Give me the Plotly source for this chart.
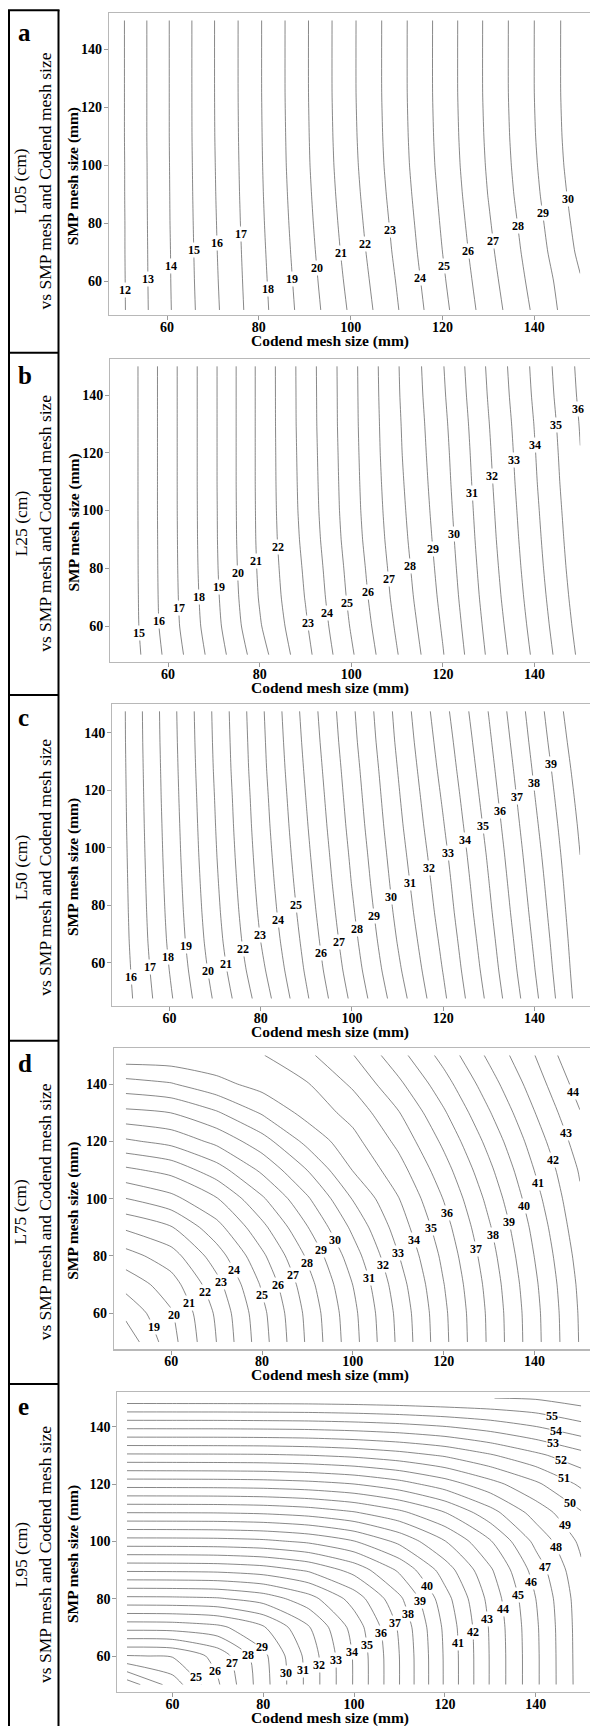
import numpy as np
import plotly.graph_objects as go

W, H = 590, 1726

# ---------------- data ----------------
codend = [50, 60, 70, 80, 90, 100, 110, 120, 130, 140, 150]

smp_a = [50, 60, 70, 80, 90, 100, 110, 125, 150]
L05 = [
    [11.81, 13.82, 15.73, 17.62, 19.39, 21.14, 22.91, 24.73, 26.47, 28.15, 29.83],
    [11.82, 13.84, 15.78, 17.67, 19.48, 21.28, 23.04, 24.87, 26.62, 28.33, 29.93],
    [11.83, 13.85, 15.82, 17.72, 19.57, 21.41, 23.18, 25.00, 26.77, 28.50, 30.20],
    [11.83, 13.87, 15.85, 17.77, 19.65, 21.52, 23.29, 25.11, 26.90, 28.64, 30.36],
    [11.84, 13.88, 15.88, 17.81, 19.72, 21.62, 23.40, 25.21, 27.03, 28.78, 30.50],
    [11.84, 13.89, 15.90, 17.84, 19.78, 21.70, 23.49, 25.30, 27.12, 28.88, 30.62],
    [11.85, 13.90, 15.92, 17.86, 19.81, 21.75, 23.54, 25.35, 27.18, 28.95, 30.69],
    [11.85, 13.90, 15.93, 17.88, 19.84, 21.79, 23.58, 25.39, 27.23, 29.00, 30.74],
    [11.85, 13.90, 15.93, 17.88, 19.84, 21.79, 23.58, 25.39, 27.23, 29.00, 30.74],
]

smp_b = [50, 60, 70, 80, 90, 100, 110, 120, 130, 140, 150]
L25 = [
    [14.12, 16.28, 18.40, 20.58, 22.68, 24.87, 26.95, 28.95, 31.16, 33.18, 35.21],
    [14.17, 16.45, 18.62, 20.91, 22.88, 25.08, 27.14, 29.10, 31.31, 33.34, 35.37],
    [14.18, 16.50, 18.72, 21.07, 23.04, 25.24, 27.31, 29.24, 31.45, 33.48, 35.51],
    [14.19, 16.52, 18.78, 21.15, 23.15, 25.36, 27.43, 29.35, 31.56, 33.60, 35.63],
    [14.19, 16.53, 18.81, 21.20, 23.27, 25.49, 27.55, 29.45, 31.66, 33.70, 35.73],
    [14.19, 16.54, 18.82, 21.22, 23.35, 25.57, 27.64, 29.54, 31.74, 33.79, 35.82],
    [14.19, 16.54, 18.83, 21.23, 23.39, 25.61, 27.72, 29.62, 31.82, 33.88, 35.91],
    [14.19, 16.54, 18.83, 21.23, 23.42, 25.64, 27.79, 29.69, 31.89, 33.95, 35.98],
    [14.19, 16.54, 18.83, 21.23, 23.45, 25.67, 27.83, 29.77, 31.97, 34.03, 36.06],
    [14.19, 16.54, 18.83, 21.23, 23.46, 25.68, 27.88, 29.87, 32.07, 34.14, 36.17],
    [14.19, 16.54, 18.83, 21.23, 23.47, 25.69, 27.91, 29.95, 32.15, 34.22, 36.25],
]

smp_c = [47.5, 57.5, 67.5, 77.5, 87.5, 97.5, 107.5, 117.5, 127.5, 137.5, 147.5]
L50 = [
    [15.56, 17.83, 20.14, 22.42, 24.87, 27.19, 29.51, 31.82, 34.24, 36.76, 39.45],
    [15.64, 18.01, 20.39, 22.75, 25.13, 27.47, 29.81, 32.04, 34.46, 36.97, 39.56],
    [15.71, 18.15, 20.58, 23.00, 25.32, 27.68, 30.04, 32.23, 34.64, 37.14, 39.66],
    [15.75, 18.24, 20.71, 23.17, 25.49, 27.86, 30.24, 32.42, 34.82, 37.31, 39.77],
    [15.78, 18.31, 20.81, 23.30, 25.64, 28.03, 30.41, 32.58, 34.98, 37.47, 39.88],
    [15.81, 18.37, 20.90, 23.41, 25.78, 28.17, 30.57, 32.75, 35.14, 37.63, 40.00],
    [15.84, 18.42, 20.97, 23.51, 25.91, 28.32, 30.73, 32.94, 35.32, 37.80, 40.14],
    [15.86, 18.47, 21.03, 23.59, 26.03, 28.45, 30.87, 33.12, 35.50, 37.97, 40.30],
    [15.88, 18.51, 21.10, 23.68, 26.15, 28.58, 31.01, 33.31, 35.68, 38.14, 40.48],
    [15.90, 18.55, 21.15, 23.74, 26.27, 28.72, 31.16, 33.49, 35.86, 38.32, 40.68],
    [15.91, 18.58, 21.19, 23.80, 26.38, 28.83, 31.28, 33.68, 36.04, 38.49, 40.88],
]

smp_d = [50, 60, 70, 80, 90, 100, 110, 120, 130, 140, 150]
L75 = [
    [17.30, 19.64, 22.01, 24.59, 27.16, 29.63, 32.18, 34.73, 37.16, 39.64, 42.07],
    [18.25, 19.89, 22.17, 24.73, 27.27, 29.73, 32.27, 34.79, 37.20, 39.68, 42.11],
    [19.34, 20.55, 22.67, 25.13, 27.60, 30.01, 32.53, 34.97, 37.34, 39.81, 42.21],
    [20.60, 21.56, 23.51, 25.79, 28.15, 30.53, 32.95, 35.24, 37.58, 40.02, 42.39],
    [22.16, 22.93, 24.65, 26.72, 28.96, 31.22, 33.45, 35.60, 37.89, 40.28, 42.63],
    [23.98, 24.70, 25.93, 27.85, 29.87, 32.06, 33.95, 36.04, 38.29, 40.63, 42.85],
    [25.80, 26.33, 27.56, 29.20, 31.02, 33.04, 34.58, 36.59, 38.77, 41.02, 43.10],
    [27.84, 28.31, 29.26, 30.58, 32.29, 33.68, 35.25, 37.21, 39.31, 41.47, 43.50],
    [29.75, 30.01, 30.89, 32.11, 33.36, 34.35, 35.93, 37.87, 39.92, 41.97, 43.95],
    [31.62, 31.93, 32.69, 33.37, 33.94, 35.17, 36.77, 38.59, 40.55, 42.48, 44.45],
    [33.62, 33.65, 33.75, 33.95, 34.80, 35.96, 37.63, 39.35, 41.20, 42.98, 44.98],
]

smp_e = [50, 60, 70, 80, 90, 100, 110, 120, 130, 140, 150]
L95 = [
    [21.40, 23.44, 25.88, 28.59, 31.32, 34.09, 37.00, 40.12, 43.08, 45.80, 48.48],
    [24.94, 25.07, 26.34, 28.73, 31.38, 34.11, 37.01, 40.13, 43.08, 45.80, 48.50],
    [28.35, 28.40, 28.74, 29.88, 31.91, 34.40, 37.17, 40.22, 43.13, 45.84, 48.52],
    [31.76, 31.79, 31.90, 32.43, 33.59, 35.42, 37.80, 40.60, 43.34, 46.00, 48.58],
    [35.17, 35.19, 35.25, 35.51, 36.15, 37.36, 39.18, 41.48, 43.86, 46.44, 48.81],
    [38.59, 38.60, 38.64, 38.79, 39.18, 39.96, 41.25, 42.96, 44.92, 47.27, 49.23],
    [42.00, 42.01, 42.03, 42.13, 42.39, 42.90, 43.75, 44.97, 46.61, 48.42, 49.91],
    [45.41, 45.42, 45.44, 45.50, 45.67, 46.00, 46.61, 47.51, 48.64, 49.81, 51.20],
    [48.83, 48.84, 48.85, 48.88, 48.99, 49.21, 49.58, 50.11, 50.89, 51.77, 52.65],
    [52.24, 52.245, 52.25, 52.28, 52.33, 52.46, 52.66, 52.97, 53.42, 53.98, 54.68],
    [55.65, 55.655, 55.66, 55.67, 55.69, 55.74, 55.82, 55.93, 55.99, 56.10, 56.50],
]

# contour-label levels and the SMP value at which each label sits
lab_levels_a = list(range(12, 31))
lab_y_a = [56.9, 60.6, 65.3, 70.7, 73.0, 76.1, 57.1, 60.6, 64.6, 69.6, 72.8, 77.6,
           60.9, 65.3, 70.4, 73.9, 79.0, 83.4, 88.3]
lab_levels_b = list(range(15, 37))
lab_y_b = [57.7, 61.8, 66.1, 69.9, 73.4, 78.2, 82.5, 87.5, 60.9, 64.6, 67.9, 71.9,
           76.2, 80.8, 86.7, 91.9, 106.0, 112.1, 117.5, 122.7, 129.6, 135.1]
lab_levels_c = list(range(16, 40))
lab_y_c = [54.9, 58.4, 62.1, 65.9, 57.1, 59.5, 64.6, 69.6, 74.8, 80.1, 63.5, 67.2,
           71.6, 76.3, 82.7, 87.8, 92.8, 98.3, 102.7, 107.7, 112.8, 117.5, 122.4, 129.1]
lab_levels_d = list(range(19, 45))
lab_y_d = [55.1, 59.4, 63.7, 67.3, 70.8, 75.1, 66.4, 69.9, 73.4, 77.4, 82.1, 85.6,
           72.2, 76.9, 80.9, 85.6, 89.7, 95.1, 82.3, 87.3, 91.7, 97.6, 105.3, 113.5,
           122.8, 137.3]
lab_levels_e = list(range(25, 56))
lab_y_e = [52.8, 54.9, 57.4, 60.3, 63.0, 54.2, 55.1, 56.9, 58.6, 61.5, 63.8, 67.9,
           71.4, 74.7, 79.3, 84.5, 64.7, 68.5, 72.8, 76.3, 81.3, 85.9, 90.9, 98.1,
           105.7, 113.5, 122.0, 128.4, 134.2, 138.6, 143.8]

side_titles = ["L05 (cm)", "L25 (cm)", "L50 (cm)", "L75 (cm)", "L95 (cm)"]
side_sub = "vs SMP mesh and Codend mesh size"
letters = ["a", "b", "c", "d", "e"]
x_title = "Codend mesh size (mm)"
y_title = "SMP mesh size (mm)"
tick_vals = [60, 80, 100, 120, 140]

# ---------------- layout (pixel geometry) ----------------
panels = [
    dict(smp=smp_a, z=L05, levels=lab_levels_a, ly=lab_y_a, lo=12, hi=30,
         x60=167.0, x140=534.3, left=109.1, p140=49.3, p60=281.0, top=13.3, bottom=315.0,
         cell=(10.3, 352.7)),
    dict(smp=smp_b, z=L25, levels=lab_levels_b, ly=lab_y_b, lo=15, hi=36,
         x60=168.0, x140=534.5, left=110.3, p140=395.0, p60=626.0, top=359.3, bottom=661.7,
         cell=(352.7, 695.0)),
    dict(smp=smp_c, z=L50, levels=lab_levels_c, ly=lab_y_c, lo=16, hi=40,
         x60=169.4, x140=534.5, left=112.2, p140=732.7, p60=962.7, top=704.0, bottom=1006.0,
         cell=(695.0, 1040.7)),
    dict(smp=smp_d, z=L75, levels=lab_levels_d, ly=lab_y_d, lo=18, hi=44,
         x60=171.2, x140=534.5, left=114.0, p140=1084.0, p60=1313.3, top=1048.3, bottom=1349.3,
         cell=(1040.7, 1384.0)),
    dict(smp=smp_e, z=L95, levels=lab_levels_e, ly=lab_y_e, lo=22, hi=56,
         x60=172.4, x140=535.8, left=117.4, p140=1426.7, p60=1656.0, top=1392.3, bottom=1691.7,
         cell=(1384.0, 1726.0)),
]

SERIF = "Liberation Serif, Times New Roman, serif"


def px(x):
    return x / W


def py(y):
    return 1 - y / H


def label_x(xg, yg, Z, level, yl):
    Z = np.asarray(Z, dtype=float)
    row = np.array([np.interp(yl, yg, Z[:, j]) for j in range(len(xg))])
    for j in range(len(xg) - 1):
        a, b = row[j], row[j + 1]
        if (a - level) * (b - level) <= 0 and a != b:
            return xg[j] + (level - a) / (b - a) * (xg[j + 1] - xg[j])
    return None


fig = go.Figure()
layout = dict(
    width=W, height=H, margin=dict(l=0, r=0, t=0, b=0, pad=0),
    paper_bgcolor="white", plot_bgcolor="white", showlegend=False,
    font=dict(family=SERIF, color="black"),
)
annotations = []
shapes = []

for i, p in enumerate(panels):
    sfx = "" if i == 0 else str(i + 1)
    xa, ya = "x" + sfx, "y" + sfx
    fig.add_trace(go.Contour(
        x=codend, y=p["smp"], z=p["z"], xaxis=xa, yaxis=ya,
        autocontour=False,
        contours=dict(coloring="none", start=p["lo"], end=p["hi"], size=1, showlabels=False),
        line=dict(color="#555555", width=0.7, smoothing=0.6),
        showscale=False, hoverinfo="skip",
    ))
    s = (p["x140"] - p["x60"]) / 80.0
    xr = [60 + (p["left"] - p["x60"]) / s, 60 + (W - p["x60"]) / s]
    sy = (p["p60"] - p["p140"]) / 80.0
    yr = [60 - (p["bottom"] - p["p60"]) / sy, 140 + (p["p140"] - p["top"]) / sy]
    axis_common = dict(
        showgrid=False, zeroline=False, showline=True, linecolor="#b8b8b8", linewidth=1.2,
        ticks="outside", ticklen=4, tickcolor="#9a9a9a", tickwidth=1,
        tickvals=tick_vals, tickfont=dict(family=SERIF, size=14, color="black", weight="bold"),
        fixedrange=True,
    )
    layout["xaxis" + sfx] = dict(axis_common, domain=[px(p["left"]), 1.0], range=xr,
                                 anchor=ya, mirror=True, ticklabelstandoff=-5)
    layout["yaxis" + sfx] = dict(axis_common, domain=[py(p["bottom"]), py(p["top"])], range=yr,
                                 anchor=xa, mirror=False, ticklabelstandoff=-1)

    # contour labels
    for lev, yl in zip(p["levels"], p["ly"]):
        xl = label_x(codend, p["smp"], p["z"], lev, yl)
        if xl is None:
            continue
        annotations.append(dict(
            x=xl, y=yl, xref=xa, yref=ya, text="<b>%d</b>" % lev, showarrow=False,
            font=dict(family=SERIF, size=12, color="black"),
            bgcolor="white", borderpad=0, xanchor="center", yanchor="middle",
        ))

    # axis titles
    annotations.append(dict(
        x=px(330), y=py(p["bottom"] + 26), xref="paper", yref="paper",
        text="<b>%s</b>" % x_title, showarrow=False,
        font=dict(family=SERIF, size=15.5, color="black"), xanchor="center", yanchor="middle",
    ))
    annotations.append(dict(
        x=px(73.0), y=py((p["top"] + p["bottom"]) / 2 + 12), xref="paper", yref="paper",
        text="<b>%s</b>" % y_title, showarrow=False, textangle=-90,
        font=dict(family=SERIF, size=15.5, color="black"), xanchor="center", yanchor="middle",
    ))

    # left box cell
    c0, c1 = p["cell"]
    cmid = (c0 + c1) / 2
    annotations.append(dict(
        x=px(20.5), y=py(cmid), xref="paper", yref="paper", text=side_titles[i],
        showarrow=False, textangle=-90, font=dict(family=SERIF, size=17.5, color="black"),
        xanchor="center", yanchor="middle",
    ))
    annotations.append(dict(
        x=px(45.0), y=py(cmid), xref="paper", yref="paper", text=side_sub,
        showarrow=False, textangle=-90, font=dict(family=SERIF, size=17.5, color="black"),
        xanchor="center", yanchor="middle",
    ))
    annotations.append(dict(
        x=px(16.0), y=py(c0 + 22.5), xref="paper", yref="paper", text="<b>%s</b>" % letters[i],
        showarrow=False, font=dict(family=SERIF, size=25, color="black"),
        xanchor="left", yanchor="middle",
    ))
    if i > 0:
        shapes.append(dict(type="line", xref="paper", yref="paper",
                           x0=px(9), x1=px(58.5), y0=py(c0), y1=py(c0),
                           line=dict(color="black", width=2)))

# outer box of the side column
shapes.append(dict(type="line", xref="paper", yref="paper", x0=px(9), x1=px(9),
                   y0=py(10.3), y1=0, line=dict(color="black", width=2)))
shapes.append(dict(type="line", xref="paper", yref="paper", x0=px(58.5), x1=px(58.5),
                   y0=py(10.3), y1=0, line=dict(color="black", width=2)))
shapes.append(dict(type="line", xref="paper", yref="paper", x0=px(8), x1=px(59.5),
                   y0=py(10.3), y1=py(10.3), line=dict(color="black", width=2)))

layout["annotations"] = annotations
layout["shapes"] = shapes
fig.update_layout(**layout)
fig.write_html(
    "out.html",
    config={"displayModeBar": False, "staticPlot": True},
    post_script="document.body.style.margin='0px';document.body.style.overflow='hidden';",
)
